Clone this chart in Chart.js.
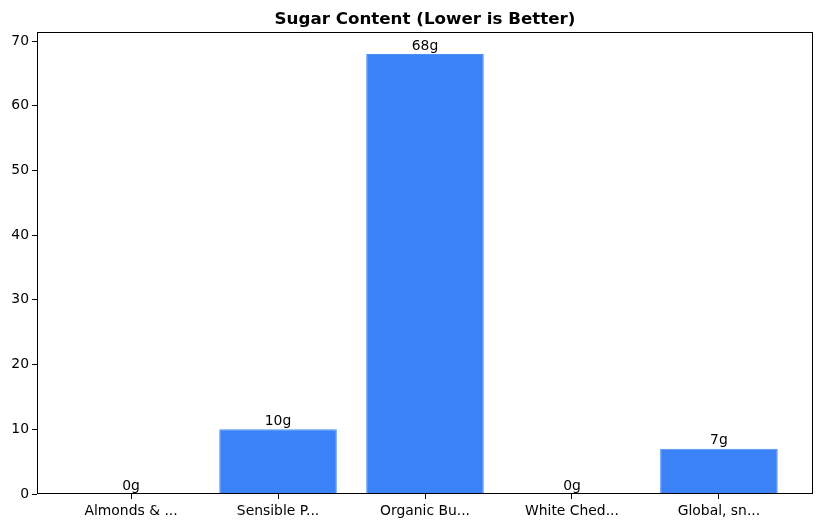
<!DOCTYPE html>
<html><head><meta charset="utf-8">
<script src="https://cdn.jsdelivr.net/npm/chart.js@4/dist/chart.umd.min.js"></script>
<style>html,body{margin:0;padding:0;background:#fff}#wrap{width:822px;height:528px}</style>
</head><body><div id="wrap"><canvas id="c" width="822" height="528"></canvas></div>
<script>
const categories = ["Almonds & ...", "Sensible P...", "Organic Bu...", "White Ched...", "Global, sn..."];
const sugarValues = [0, 10, 68, 0, 7];
const valueLabels = ["0g", "10g", "68g", "0g", "7g"];
const yTicks = [0, 10, 20, 30, 40, 50, 60, 70];
const titleText = "Sugar Content (Lower is Better)";

const FONT = "'DejaVu Sans', sans-serif";

const framePlugin = {
  id: 'frame',
  afterDraw(chart) {
    const {ctx, chartArea: a} = chart;
    ctx.save();
    ctx.strokeStyle = '#000';
    ctx.lineWidth = 1;
    ctx.strokeRect(Math.round(a.left) + 0.5, Math.round(a.top) + 0.5, Math.round(a.right - a.left) - 1, Math.round(a.bottom - a.top) - 1);
    ctx.fillStyle = '#000';
    ctx.font = "bold 16.7px " + FONT;
    ctx.textAlign = 'center';
    ctx.textBaseline = 'alphabetic';
    ctx.fillText(titleText, (a.left + a.right) / 2, 24);
    ctx.font = "13.9px " + FONT;
    ctx.textBaseline = 'bottom';
    const meta = chart.getDatasetMeta(0);
    meta.data.forEach((el, i) => {
      ctx.fillText(valueLabels[i], el.x, el.y - 1);
    });
    ctx.restore();
  }
};

new Chart(document.getElementById('c'), {
  type: 'bar',
  data: {
    datasets: [{
      data: sugarValues.map((v, i) => ({x: i, y: v})),
      backgroundColor: '#3b82f6',
      borderColor: '#4d8ef7',
      borderWidth: 1,
      barPercentage: 0.8,
      categoryPercentage: 1.0
    }]
  },
  options: {
    responsive: false,
    animation: false,
    layout: {padding: {top: 32, right: 9, left: 0, bottom: 0}},
    plugins: {legend: {display: false}, tooltip: {enabled: false}, title: {display: false}},
    scales: {
      x: {
        type: 'linear',
        offset: false,
        min: -0.64, max: 4.64,
        afterBuildTicks(scale) { scale.ticks = categories.map((c, i) => ({value: i})); },
        afterFit(scale) { scale.height = 34; },
        ticks: {
          callback: (v) => categories[v],
          color: '#000', font: {family: FONT, size: 13.9}, padding: 4,
          maxRotation: 0, autoSkip: false
        },
        grid: {offset: false, drawOnChartArea: false, drawTicks: true, tickLength: 5, color: '#000'},
        border: {display: false}
      },
      y: {
        min: 0, max: 71.4,
        afterBuildTicks(scale) { scale.ticks = yTicks.map(v => ({value: v})); },
        afterFit(scale) { scale.width = 37; },
        ticks: {color: '#000', font: {family: FONT, size: 13.9}, padding: 3},
        grid: {drawOnChartArea: false, drawTicks: true, tickLength: 5, color: '#000'},
        border: {display: false}
      }
    }
  },
  plugins: [framePlugin]
});
</script></body></html>
